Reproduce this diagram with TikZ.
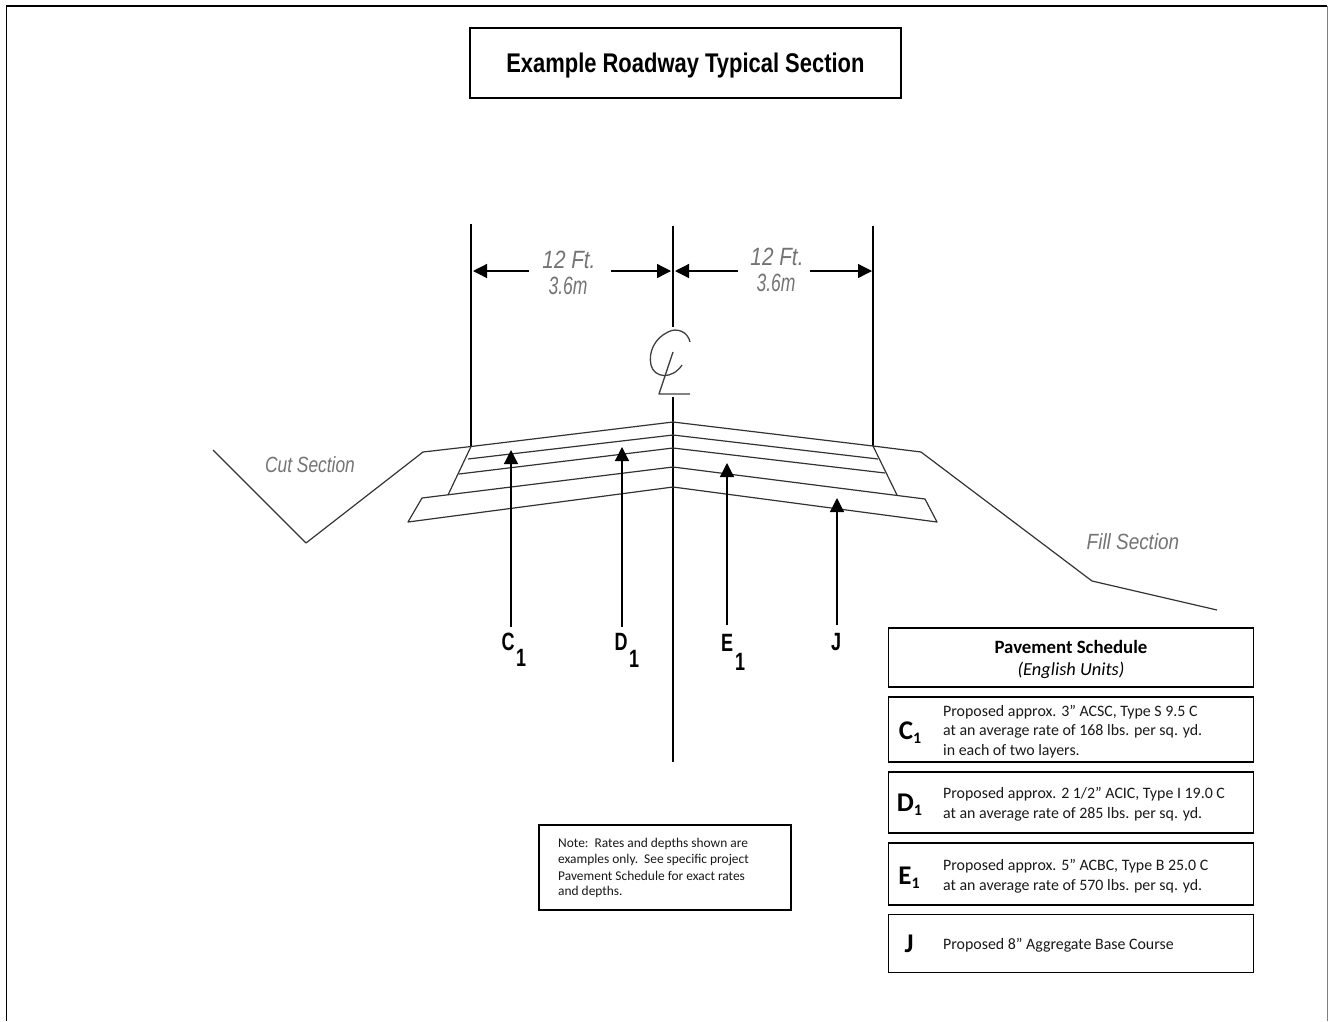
\documentclass[tikz,border=0pt]{standalone}
\usepackage{fontspec}
\setmainfont{Carlito}
\newfontfamily\arialfont{Liberation Sans}
\usetikzlibrary{arrows.meta}
\tikzset{
  x=1pt,y=-1pt,
  cad/.style={draw=black!80,line width=1.2pt,line join=round},
  lead/.style={draw=black,line width=1.3pt},
  dimtip/.style={-{Triangle[length=14pt,width=14pt]}},
  boxed/.style={draw=black,line width=1.8pt,fill=white},
  cadtext/.style={font=\arialfont\itshape\fontsize{25}{25}\selectfont,text=black!55,transform shape,inner sep=0pt},
  sectext/.style={font=\arialfont\itshape\fontsize{22}{22}\selectfont,text=black!55,transform shape,inner sep=0pt},
  marktext/.style={font=\arialfont\bfseries\fontsize{25}{25}\selectfont,xscale=.72,transform shape,inner sep=0pt},
  bodytext/.style={font=\fontsize{15.9}{19.5}\selectfont,anchor=west,inner sep=0pt,text=black!90},
  codetext/.style={font=\bfseries\fontsize{27}{27}\selectfont,inner sep=0pt},
  notetext/.style={font=\fontsize{13.4}{16}\selectfont,anchor=west,inner sep=0pt,text=black!90}
}
\newcommand{\subone}{\raisebox{-4pt}{\fontsize{16}{16}\selectfont 1}}
\begin{document}
\begin{tikzpicture}
\useasboundingbox (0,0) rectangle (1328,1021);
% page frame
\coordinate (fbl) at (6.5,1021);\coordinate (ftl) at (6.5,6);\coordinate (ftr) at (1327,6);\coordinate (fbr) at (1327,1021);
\draw[draw=black!50,line width=1pt] (ftr) -- (fbr);
\draw[draw=black,line width=1.8pt] (fbl) -- (ftl) -- (ftr);
% title
\node[boxed,minimum width=431pt,minimum height=70pt,anchor=north west,inner sep=0pt,font=\arialfont\bfseries\fontsize{27}{27}\selectfont,text=black] (title) at (469,27) {\raisebox{-10pt}[0pt][0pt]{\scalebox{.813}[1]{Example Roadway Typical Section}}};
% reference lines
\coordinate (lt) at (471,224);\coordinate (lb) at (471,447);
\coordinate (ct) at (673,226);\coordinate (cm) at (673,327);\coordinate (cn) at (673,397);\coordinate (cb) at (673,762);
\coordinate (rt) at (873,226);\coordinate (rb) at (873,446);
\draw[lead,line width=1.4pt] (lt)--(lb);
\draw[lead,line width=1.4pt] (ct)--(cm);
\draw[lead,line width=1.4pt] (cn)--(cb);
\draw[lead,line width=1.4pt] (rt)--(rb);
% dimensions
\coordinate (d1) at (529,271);\coordinate (d1t) at (473,271);
\coordinate (d2) at (611,271);\coordinate (d2t) at (671,271);
\coordinate (d3) at (738,271);\coordinate (d3t) at (675,271);
\coordinate (d4) at (810,271);\coordinate (d4t) at (872,271);
\foreach \a/\b in {d1/d1t,d2/d2t,d3/d3t,d4/d4t}{\draw[lead,dimtip] (\a)--(\b);}
\node[cadtext,xscale=.83] (f1) at (569,260) {12 Ft.};
\node[cadtext,xscale=.7] (m1) at (568,286) {3.6m};
\node[cadtext,xscale=.83] (f2) at (777,257) {12 Ft.};
\node[cadtext,xscale=.7] (m2) at (776,283) {3.6m};
% centre line symbol
\draw[cad,black!75,line width=1.3pt] (690,342) .. controls (688,332) and (677,327) .. (668,332) .. controls (655,338) and (648,352) .. (651,365) .. controls (654,378) and (672,380) .. (682,365);
\draw[cad,black!75,line width=1.3pt] (673,352) -- (659,394) -- (690,394);
% cross section
\draw[cad] (213,450) -- (306,543) -- (423,452) -- (471,446.5) -- (673,422) -- (873,446) -- (921,452) -- (1092,581) -- (1217,610);
\draw[cad] (468,459) -- (673,435) -- (878,459);
\draw[cad] (459,474) -- (673,448) -- (885,473);
\draw[cad] (422,498) -- (673,467) -- (925,499) -- (937,522) -- (673,487) -- (408,522) -- cycle;
\draw[cad] (471,446.5) -- (448,495);
\draw[cad] (873,446) -- (897,495);
% leaders
\coordinate (c0) at (511,627);\coordinate (c1) at (511,450);
\coordinate (e0) at (622,627);\coordinate (e1) at (622,447);
\coordinate (g0) at (727,625);\coordinate (g1) at (727,463);
\coordinate (j0) at (837,625);\coordinate (j1) at (837,498);
\foreach \a/\b in {c0/c1,e0/e1,g0/g1,j0/j1}{\draw[lead,dimtip] (\a)--(\b);}
\node[marktext] (lc) at (508,642) {C};
\node[marktext] (lc1) at (521,658) {1};
\node[marktext] (ld) at (621,642) {D};
\node[marktext] (ld1) at (634,659) {1};
\node[marktext] (le) at (727,643) {E};
\node[marktext] (le1) at (740,662) {1};
\node[marktext] (lj) at (836,642) {J};
\node[sectext,xscale=.79] (cut) at (310,465) {Cut Section};
\node[sectext,xscale=.86] (fill) at (1133,542) {Fill Section};
% schedule
\newcommand{\schedbox}[3]{\draw[boxed] (888.5,#2) rectangle (1253.5,#3) coordinate (#1);}
\schedbox{bh}{628}{687}
\schedbox{bc}{697}{762}
\schedbox{bd}{772}{833}
\schedbox{be}{843}{905}
\schedbox{bj}{914.5}{972.5}
\node[font=\bfseries\fontsize{18.8}{18.8}\selectfont,inner sep=0pt] (ph) at (1071,647) {Pavement Schedule};
\node[font=\itshape\fontsize{18.4}{18.4}\selectfont,inner sep=0pt] (pe) at (1071,670) {(English Units)};
\node[codetext] (cc) at (910,733) {C\subone};
\node[codetext] (cd) at (909.5,805) {D\subone};
\node[codetext] (ce) at (909,878) {E\subone};
\node[codetext] (cj) at (909,944) {J};
\node[bodytext] (t1) at (943,712) {Proposed approx. 3” ACSC, Type S 9.5 C};
\node[bodytext] (t2) at (943,731) {at an average rate of 168 lbs. per sq. yd.};
\node[bodytext] (t3) at (943,751) {in each of two layers.};
\node[bodytext] (t4) at (943,794) {Proposed approx. 2 1/2” ACIC, Type I 19.0 C};
\node[bodytext] (t5) at (943,814) {at an average rate of 285 lbs. per sq. yd.};
\node[bodytext] (t6) at (943,866) {Proposed approx. 5” ACBC, Type B 25.0 C};
\node[bodytext] (t7) at (943,886) {at an average rate of 570 lbs. per sq. yd.};
\node[bodytext] (t8) at (943,945) {Proposed 8” Aggregate Base Course};
% note
\node[boxed,minimum width=252pt,minimum height=85pt,anchor=north west,inner sep=0pt] (note) at (538,824) {};
\node[notetext] (n1) at (558,844) {Note:\ \ Rates and depths shown are};
\node[notetext] (n2) at (558,860) {examples only.\ \ See specific project};
\node[notetext] (n3) at (558,876) {Pavement Schedule for exact rates};
\node[notetext] (n4) at (558,892) {and depths.};
\end{tikzpicture}
\end{document}
